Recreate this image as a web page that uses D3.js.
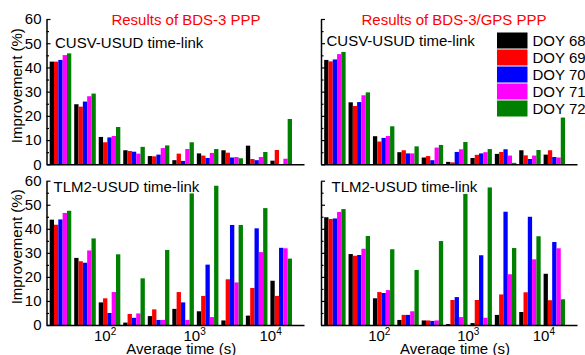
<!DOCTYPE html>
<html><head><meta charset="utf-8">
<script src="https://cdn.jsdelivr.net/npm/d3@7"></script>
<style>
body{margin:0;background:#fff;}
svg text{font-family:"Liberation Sans",Arial,sans-serif;}
</style></head>
<body><svg id="c" width="585" height="355"></svg>
<script>
// Averaging times (s): one group of bars per value
const avgTimes = [30, 60, 120, 240, 480, 960, 1920, 3840, 7680, 15360];
const doys = ["DOY 68", "DOY 69", "DOY 70", "DOY 71", "DOY 72"];
const colors = ["#000000", "#ff0000", "#0000ff", "#ff00ff", "#008000"];
const yTicks = [0, 10, 20, 30, 40, 50, 60];
const yMinor = [5, 15, 25, 35, 45, 55];
const xTickExp = ["2", "3", "4"];
const xTickPos = [1.8, 5.45, 8.55]; // position in group-index units

// Improvement (%) — rows: DOY 68..72, columns: avgTimes
const cusvBDS = [
  [42.4, 24.8, 11.3, 5.8, 3.4, 1.7, 4.5, 5.8, 7.7, 1.5],
  [42.4, 23.8, 9.1, 5.5, 3.3, 4.4, 3.6, 4.8, 2.2, 5.9],
  [43.1, 25.9, 11.1, 5.2, 4.0, 1.4, 2.6, 2.8, 1.7, 0],
  [45.1, 28.1, 11.7, 4.4, 6.7, 6.3, 4.7, 3.0, 3.0, 2.3],
  [45.8, 29.2, 15.4, 7.2, 7.8, 9.1, 6.3, 2.5, 5.1, 18.7]
];
const cusvBDSGPS = [
  [43.1, 25.6, 11.6, 5.0, 2.8, 1.0, 2.6, 4.3, 5.8, 4.0],
  [42.5, 24.1, 9.4, 5.8, 3.4, 0.8, 3.9, 5.1, 3.7, 5.8],
  [43.3, 25.7, 10.9, 4.5, 1.7, 5.1, 4.5, 6.2, 2.2, 3.0],
  [45.5, 28.5, 11.7, 4.5, 6.9, 6.2, 5.0, 3.6, 3.6, 2.8],
  [46.4, 29.7, 15.7, 7.4, 8.0, 9.2, 6.3, 0.6, 5.9, 19.3]
];
const tlmBDS = [
  [43.8, 27.9, 9.4, 1.0, 3.7, 6.7, 5.7, 1.9, 3.9, 18.4],
  [41.7, 26.5, 11.1, 4.6, 6.5, 13.7, 12.1, 19.0, 15.4, 12.1],
  [43.9, 25.9, 5.0, 3.0, 2.1, 9.4, 25.1, 41.6, 40.2, 32.1],
  [46.6, 31.0, 13.7, 4.8, 2.1, 2.1, 3.3, 17.7, 30.3, 31.9],
  [47.5, 36.0, 29.4, 19.4, 31.2, 54.7, 57.9, 41.6, 48.6, 27.6]
];
const tlmBDSGPS = [
  [44.8, 29.5, 11.1, 2.1, 1.9, 0.4, 0.8, 4.2, 5.4, 21.3],
  [44.1, 28.8, 13.7, 4.2, 1.9, 10.4, 10.4, 12.7, 13.6, 10.3],
  [44.3, 29.1, 13.3, 4.2, 1.7, 11.6, 29.0, 47.1, 45.0, 34.5],
  [47.0, 31.7, 14.5, 5.7, 1.9, 3.3, 3.0, 21.1, 27.3, 31.9],
  [48.2, 37.0, 31.5, 22.9, 34.9, 54.5, 57.2, 32.0, 36.9, 10.7]
];

const svg = d3.select("#c");
const FONT = 15;

const panels = [
  {data: cusvBDS, x0: 46.5, x1: 304, yb: 164.3, yt: 19, labels: true, xlab: false,
   name: "CUSV-USUD time-link", nx: 55, ny: 47.5, title: "Results of BDS-3 PPP", tx: 186},
  {data: cusvBDSGPS, x0: 321, x1: 577, yb: 164.3, yt: 19, labels: false, xlab: false,
   name: "CUSV-USUD time-link", nx: 326.5, ny: 45.5, title: "Results of BDS-3/GPS PPP", tx: 454, legend: true},
  {data: tlmBDS, x0: 46.5, x1: 304, yb: 325, yt: 180.7, labels: true, xlab: true,
   name: "TLM2-USUD time-link", nx: 53.5, ny: 191.5},
  {data: tlmBDSGPS, x0: 321, x1: 577, yb: 325, yt: 180.7, labels: false, xlab: true,
   name: "TLM2-USUD time-link", nx: 331.5, ny: 191.5}
];

panels.forEach(p => {
  const g = svg.append("g");
  const x = d3.scaleLinear().domain([-0.57, avgTimes.length - 0.07]).range([p.x0, p.x1]);
  const y = d3.scaleLinear().domain([0, 60]).range([p.yb, p.yt]);
  const step = x(1) - x(0);
  const bw = step * 0.176;
  const nS = doys.length;

  // bars
  doys.forEach((d, s) => {
    g.append("g").selectAll("rect").data(p.data[s]).join("rect")
      .attr("x", (v, i) => x(i) + (s - nS / 2) * bw)
      .attr("y", v => y(v))
      .attr("width", bw)
      .attr("height", v => y(0) - y(v))
      .attr("fill", colors[s]);
  });

  // y axis
  const ya = g.append("g").attr("transform", `translate(${p.x0},0)`)
    .call(d3.axisLeft(y).tickValues(yTicks).tickSizeInner(-4).tickSizeOuter(0).tickPadding(5)
      .tickFormat(p.labels ? d3.format("d") : () => ""));
  ya.select(".domain").attr("stroke-width", 1.5);
  ya.selectAll(".tick line").attr("stroke-width", 1.2);
  ya.selectAll("text").attr("font-size", FONT).attr("fill", "#000")
    .style("font-family", '"Liberation Sans",Arial,sans-serif');
  const ym = g.append("g").attr("transform", `translate(${p.x0},0)`)
    .call(d3.axisLeft(y).tickValues(yMinor).tickSizeInner(-2.5).tickSizeOuter(0).tickFormat(() => ""));
  ym.select(".domain").remove();
  ym.selectAll(".tick line").attr("stroke-width", 1.2);

  // x axis
  const xa = g.append("g").attr("transform", `translate(0,${p.yb})`)
    .call(d3.axisBottom(x).tickValues(p.xlab ? xTickPos : []).tickSize(0).tickPadding(6)
      .tickFormat(() => ""));
  xa.select(".domain").attr("stroke-width", 1.5);
  if (p.xlab) {
    xa.selectAll(".tick text").each(function(d, i) {
      const t = d3.select(this).attr("font-size", FONT).attr("fill", "#000")
        .attr("text-anchor", "middle").attr("dy", null).attr("y", 16);
      t.text("");
      t.append("tspan").text("10");
      t.append("tspan").attr("font-size", 10).attr("dy", -6).text(xTickExp[i]);
    });
    g.append("text").attr("x", (p.x0 + p.x1) / 2 + 6).attr("y", 354)
      .attr("text-anchor", "middle").attr("font-size", FONT).text("Average time (s)");
  }

  // y label
  if (p.labels) {
    g.append("text")
      .attr("transform", `translate(22,${(p.yb + p.yt) / 2 - 6}) rotate(-90)`)
      .attr("text-anchor", "middle").attr("font-size", FONT).text("Improvement (%)");
  }

  // panel name
  g.append("text").attr("x", p.nx).attr("y", p.ny).attr("font-size", FONT).text(p.name);
  if (p.title) {
    g.append("text").attr("x", p.tx).attr("y", 25).attr("text-anchor", "middle")
      .attr("font-size", FONT).attr("fill", "#ff0000").text(p.title);
  }

  // legend
  if (p.legend) {
    const lg = g.append("g").attr("transform", "translate(497,32.5)");
    const it = lg.selectAll("g").data(doys).join("g")
      .attr("transform", (d, i) => `translate(0,${i * 17})`);
    it.append("rect").attr("width", 30.5).attr("height", 16)
      .attr("fill", (d, i) => colors[i]);
    it.append("text").attr("x", 35.5).attr("y", 13.5).attr("font-size", FONT).text(d => d);
  }
});
</script></body></html>
